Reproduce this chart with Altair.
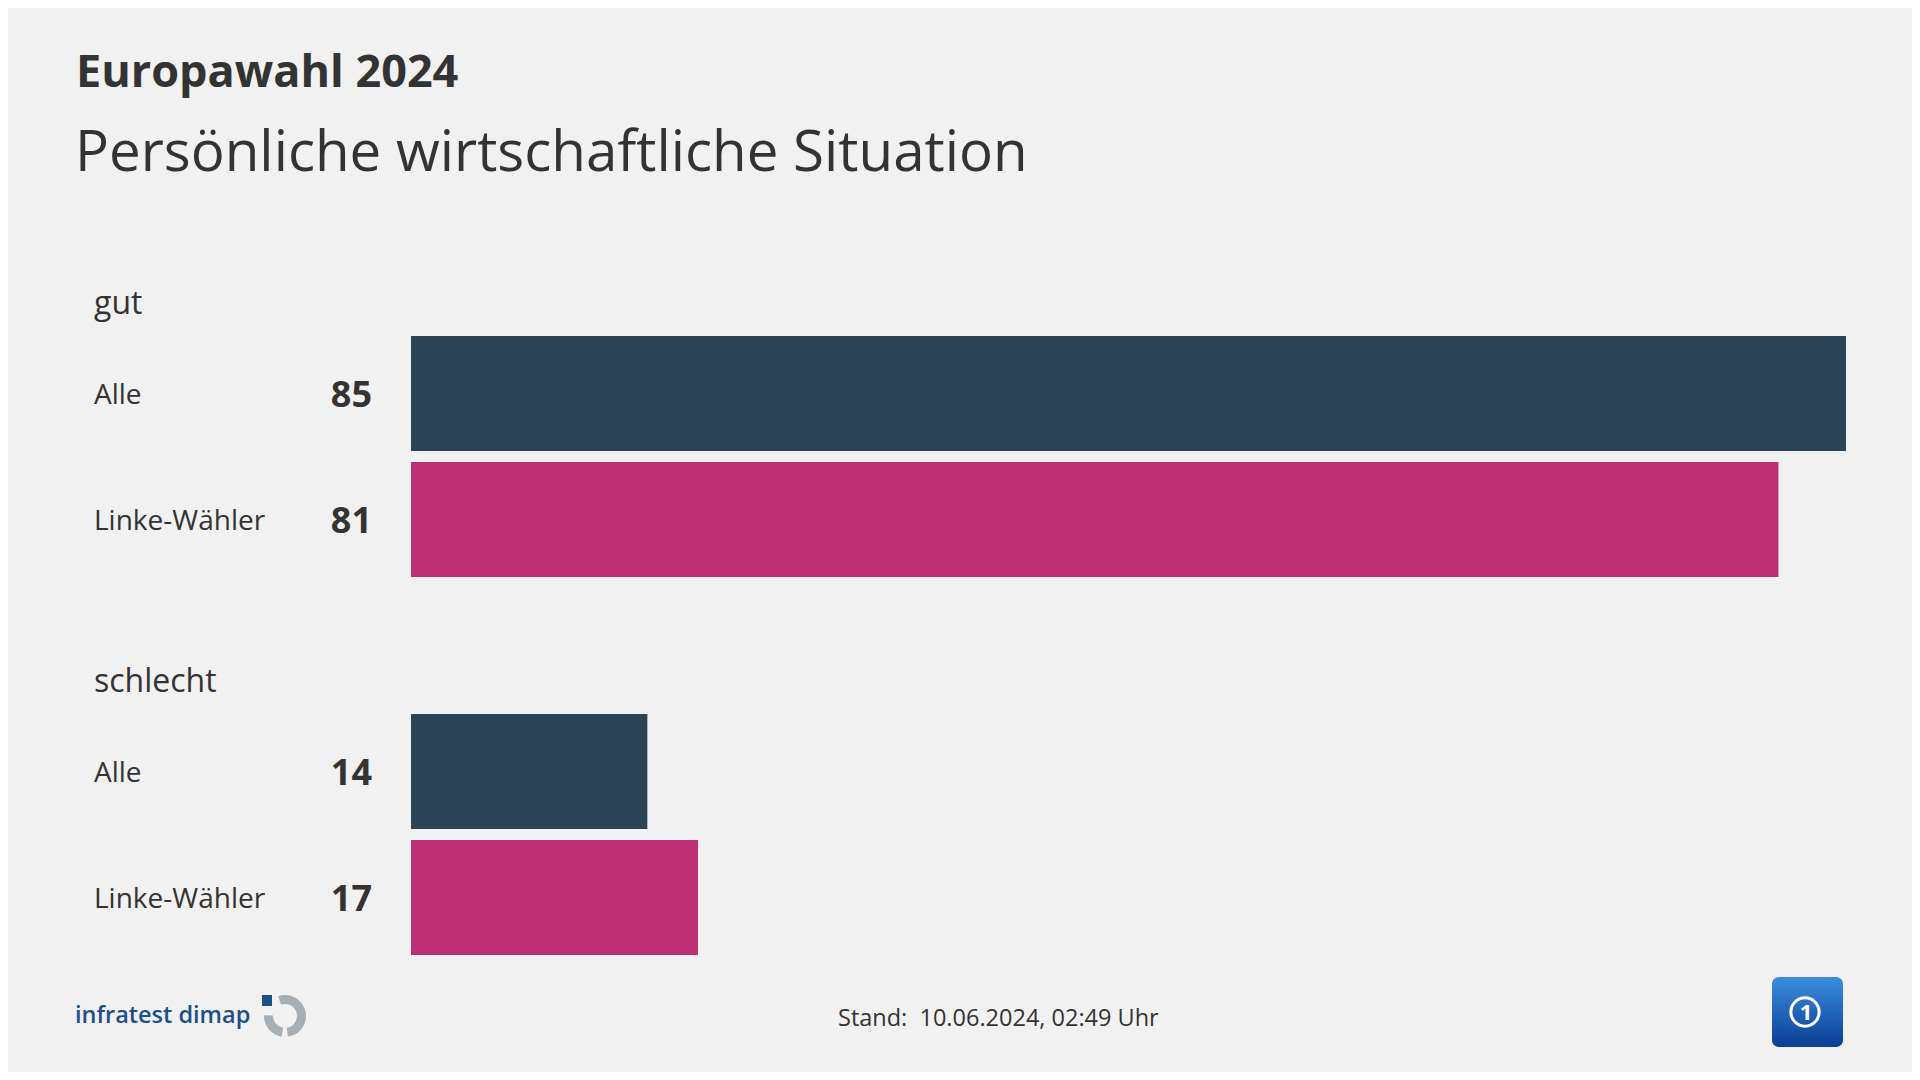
import altair as alt
import pandas as pd

# ---- data ----
groups = ["gut", "gut", "schlecht", "schlecht"]
labels = ["Alle", "Linke-Wähler", "Alle", "Linke-Wähler"]
values = [85, 81, 14, 17]
group_names = ["gut", "schlecht"]
series = ["Alle", "Linke-Wähler"]
series_colors = ["#2b4557", "#bd3073"]

title_text = "Europawahl 2024"
subtitle_text = "Persönliche wirtschaftliche Situation"
source_text = "infratest dimap"
stand_text = "Stand:\u00a0 10.06.2024, 02:49 Uhr"

keys = [g + "|" + l for g, l in zip(groups, labels)]
df = pd.DataFrame({"key": keys, "group": groups, "label": labels, "value": values})
domain = keys[:2] + ["__gap__"] + keys[2:]
hdr = pd.DataFrame({"key": [keys[0], keys[2]], "group": group_names})
one = pd.DataFrame({"a": [0]})

FONT = "Open Sans"
TEXT = "#333333"
OX, OY = 411, 336  # plot origin on screen

y_enc = alt.Y("key:N", scale=alt.Scale(domain=domain, paddingInner=11 / 126, paddingOuter=0), axis=None)
x_enc = alt.X("value:Q", scale=alt.Scale(domain=[0, 85], nice=False, zero=True), axis=None)

base = alt.Chart(df)
bars = base.mark_bar().encode(
    x=x_enc, y=y_enc,
    color=alt.Color("label:N", scale=alt.Scale(domain=series, range=series_colors), legend=None),
)
cat_labels = base.mark_text(align="left", baseline="alphabetic", dy=10, fontSize=28,
                            font=FONT, color=TEXT).encode(
    y=y_enc, x=alt.value(94 - OX), text="label:N")
num_labels = base.mark_text(align="right", baseline="alphabetic", dy=13, fontSize=36,
                            fontWeight="bold", font=FONT, color=TEXT).encode(
    y=y_enc, x=alt.value(372 - OX), text="value:Q")
headers = alt.Chart(hdr).mark_text(align="left", baseline="alphabetic", dy=-80, fontSize=32,
                                   font=FONT, color=TEXT).encode(
    y=y_enc, x=alt.value(94 - OX), text="group:N")


def txt(s, x, y, size, weight="normal", color=TEXT, align="left"):
    return alt.Chart(pd.DataFrame({"t": [s]})).mark_text(
        align=align, baseline="alphabetic", fontSize=size, fontWeight=weight,
        font=FONT, color=color).encode(text="t:N", x=alt.value(x - OX), y=alt.value(y - OY))


title = txt(title_text, 76, 87, 45, "bold")
subtitle = txt(subtitle_text, 75, 171, 56.5)
source = txt(source_text, 75, 1023, 23.5, 600, "#1d4f89")
stand = txt(stand_text, 838, 1026, 23.5)

# infratest dimap logo
GRAY = "#a7afb6"
cx, cy = 285 - OX, 1016 - OY
arc_a = alt.Chart(one).mark_arc(innerRadius=12, outerRadius=21, theta=5.95, theta2=6.2832, color=GRAY).encode(
    x=alt.value(cx), y=alt.value(cy))
arc_b = alt.Chart(one).mark_arc(innerRadius=12, outerRadius=21, theta=0, theta2=3.0, color=GRAY).encode(
    x=alt.value(cx), y=alt.value(cy))
arc_c = alt.Chart(one).mark_arc(innerRadius=12, outerRadius=21, theta=3.3, theta2=4.75, color=GRAY).encode(
    x=alt.value(cx), y=alt.value(cy))
sq = alt.Chart(one).mark_rect(color="#1d4f89").encode(
    x=alt.value(262 - OX), x2=alt.value(272 - OX), y=alt.value(995 - OY), y2=alt.value(1006 - OY))

# ARD logo
ard_bg = alt.Chart(one).mark_rect(
    cornerRadius=7,
    color=alt.LinearGradient(gradient="linear", x1=0, x2=0, y1=0, y2=1,
                             stops=[alt.GradientStop(color="#3b8ee0", offset=0),
                                    alt.GradientStop(color="#0a3d92", offset=1)]),
).encode(x=alt.value(1772 - OX), x2=alt.value(1843 - OX), y=alt.value(977 - OY), y2=alt.value(1047 - OY))
ard_ring = alt.Chart(one).mark_point(shape="circle", size=800, filled=False, stroke="white",
                                     strokeWidth=3, opacity=1).encode(
    x=alt.value(1805 - OX), y=alt.value(1012 - OY))
ard_one = alt.Chart(pd.DataFrame({"t": ["1"]})).mark_text(
    fontSize=22, fontWeight="bold", color="white", font=FONT, baseline="middle", align="center").encode(
    text="t:N", x=alt.value(1806 - OX), y=alt.value(1013 - OY))

chart = alt.layer(
    bars, cat_labels, num_labels, headers, title, subtitle, source, stand,
    arc_a, arc_b, arc_c, sq, ard_bg, ard_ring, ard_one,
).properties(
    width=1435, height=619,
    padding={"left": 403, "top": 328, "right": 66, "bottom": 117},
    autosize=alt.AutoSizeParams(type="none"),
    background="#f1f1f1",
).configure_view(stroke=None)

chart.save("out.html", embed_options={"renderer": "svg", "actions": False})
